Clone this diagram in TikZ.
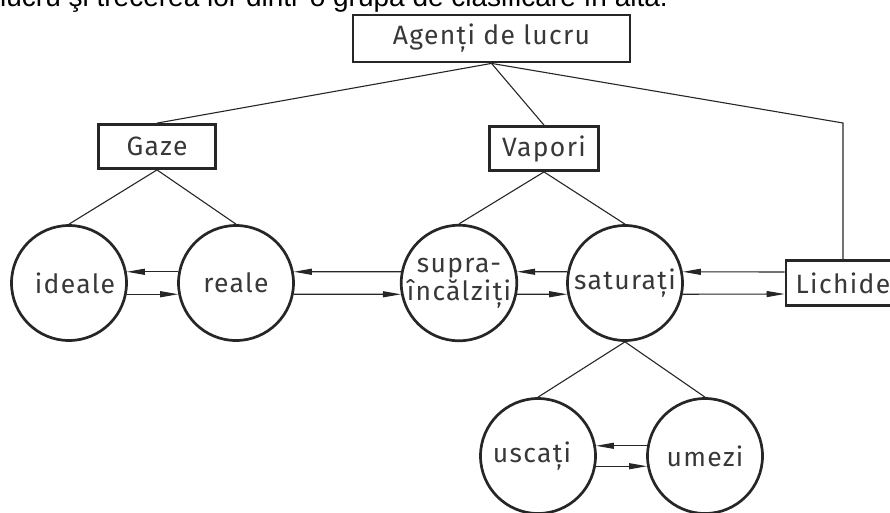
\documentclass[tikz,border=0pt]{standalone}
\usepackage{fontspec}
\setmainfont{Liberation Sans}
\newfontfamily\diafont[LetterSpace=5]{Fira Sans}
\usetikzlibrary{arrows.meta}
\definecolor{linegray}{HTML}{262626}
\definecolor{txtgray}{HTML}{383838}
\begin{document}
\begin{tikzpicture}[x=1pt,y=-1pt,
  lbl/.style={font=\diafont\fontsize{26.5}{28}\selectfont, text=txtgray},
  boxnode/.style={draw=linegray, line width=2.8pt, inner sep=0pt, lbl},
  circ/.style={circle, draw=linegray, line width=2.7pt, minimum size=115pt, inner sep=0pt, lbl},
  conn/.style={draw=linegray, line width=1.1pt},
  arr/.style={conn, -{Triangle[length=18pt,width=6pt]}}
]
\useasboundingbox (0,0) rectangle (890,512);

% partially visible caption line at the top
\node[anchor=base west, inner sep=0pt, font=\fontsize{28}{30}\selectfont] (caption) at (0,6.5)
  {lucru şi trecerea lor dintr-o grupă de clasificare în alta.};

% boxes
\node[boxnode, minimum width=277pt, minimum height=47pt] (agenti) at (491.5,38.5) {Agenți de lucru};
\node[boxnode, minimum width=117pt, minimum height=44pt] (gaze) at (157,146.5) {Gaze};
\node[boxnode, minimum width=109pt, minimum height=44pt] (vapori) at (544,148.5) {Vapori};
\node[boxnode, minimum width=114pt, minimum height=45pt] (lichide) at (843,283) {Lichide};

% circles
\node[circ] (ideale) at (69,283) {\hspace*{12pt}ideale};
\node[circ] (reale) at (236,283) {reale};
\node[circ, align=center] (supra) at (459,283) {supra-\\încălziți};
\node[circ] (saturati) at (625,283) {saturați};
\node[circ] (uscati) at (538,456) {uscați\hspace*{12pt}};
\node[circ] (umezi) at (705,456) {umezi};

% tree connectors
\coordinate (k) at (843,123);
\draw[conn] (agenti.south) -- (gaze.north);
\draw[conn] (agenti.south) -- (vapori.north);
\draw[conn] (agenti.south) -- (k) -- (lichide.north);
\draw[conn] (gaze.south) -- (ideale.north);
\draw[conn] (gaze.south) -- (reale.north);
\draw[conn] (vapori.south) -- (supra.north);
\draw[conn] (vapori.south) -- (saturati.north);
\draw[conn] (saturati.south) -- (uscati.north);
\draw[conn] (saturati.south) -- (umezi.north);

% transition arrows
\draw[arr] (reale.169) -- (ideale.11);
\draw[arr] (ideale.-11) -- (reale.-169);
\draw[arr] (supra.169) -- (reale.11);
\draw[arr] (reale.-11) -- (supra.-169);
\draw[arr] (saturati.169) -- (supra.11);
\draw[arr] (supra.-11) -- (saturati.-169);
\draw[arr] ([yshift=11pt]lichide.west) -- (saturati.11);
\draw[arr] (saturati.-11) -- ([yshift=-11pt]lichide.west);
\draw[arr] (umezi.170) -- (uscati.10);
\draw[arr] (uscati.-10) -- (umezi.-170);
\end{tikzpicture}
\end{document}
